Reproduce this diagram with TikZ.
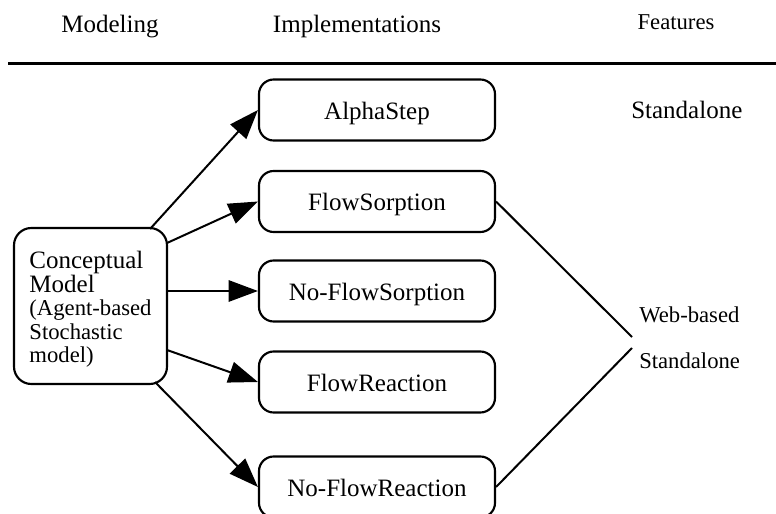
\documentclass[tikz,border=0pt]{standalone}
\usepackage{fontspec}
\setmainfont{Liberation Serif}
\usetikzlibrary{arrows.meta}
\newcommand{\bigtxt}{\fontsize{18.75}{17.6}\selectfont}
\newcommand{\smalltxt}{\fontsize{17}{17.6}\selectfont}
\begin{document}
\begin{tikzpicture}[x=0.75pt,y=-0.75pt,
  impl/.style={draw,line width=1.6pt,rounded corners=11pt,minimum width=177pt,minimum height=45.75pt,inner sep=0pt,text height=14pt,text depth=0pt,font=\bigtxt},
  concept/.style={draw,line width=1.6pt,rounded corners=13pt,minimum width=114.75pt,minimum height=117pt,inner sep=0pt,font=\bigtxt},
  arr/.style={line width=1.5pt,-{Triangle[length=22pt,width=16pt]}},
  link/.style={line width=1.5pt},
  hdr/.style={anchor=base,inner sep=0pt,font=\bigtxt},
  feat/.style={anchor=base west,inner sep=0pt,font=\smalltxt}]
\useasboundingbox (0,0) rectangle (776,514);
\clip (0,0) rectangle (776,514);
% headers
\node[hdr] (hmod) at (110,32) {Modeling};
\node[hdr] (himp) at (357,32) {Implementations};
\node[hdr,font=\smalltxt] (hfeat) at (676,30) {Features};
\coordinate (l1) at (8,63);
\coordinate (l2) at (776,63);
\draw[line width=2.25pt] (l1) -- (l2);
% nodes
\node[concept] (cm) at (90.5,306) {\begin{tabular}{@{}l@{}}\rule{0pt}{19.5pt}Conceptual\\Model\\\smalltxt (Agent-based\\\smalltxt Stochastic\\\smalltxt model)\end{tabular}};
\node[impl] (a) at (377,110) {AlphaStep};
\node[impl] (fs) at (377,201.5) {FlowSorption};
\node[impl] (nfs) at (377,291) {No-FlowSorption};
\node[impl] (fr) at (377,382) {FlowReaction};
\node[impl] (nfr) at (377,487) {No-FlowReaction};
% edge starts
\coordinate (s1) at (150,229);
\coordinate (s2) at (167,243);
\coordinate (s3) at (167,291);
\coordinate (s4) at (167,350);
\coordinate (s5) at (155,382);
\draw[arr] (s1) -- (a.west);
\draw[arr] (s2) -- (fs.west);
\draw[arr] (s3) -- (nfs.west);
\draw[arr] (s4) -- (fr.west);
\draw[arr] (s5) -- (nfr.west);
% features
\node[anchor=base west,inner sep=0pt,font=\bigtxt] (sa1) at (631,118) {Standalone};
\node[feat] (wb) at (639,322) {Web-based};
\node[feat] (sa2) at (639,368) {Standalone};
\coordinate (w1) at (632,337);
\coordinate (w2) at (632,348);
\draw[link] (fs.east) -- (w1);
\draw[link] (w2) -- (nfr.east);
\end{tikzpicture}
\end{document}
